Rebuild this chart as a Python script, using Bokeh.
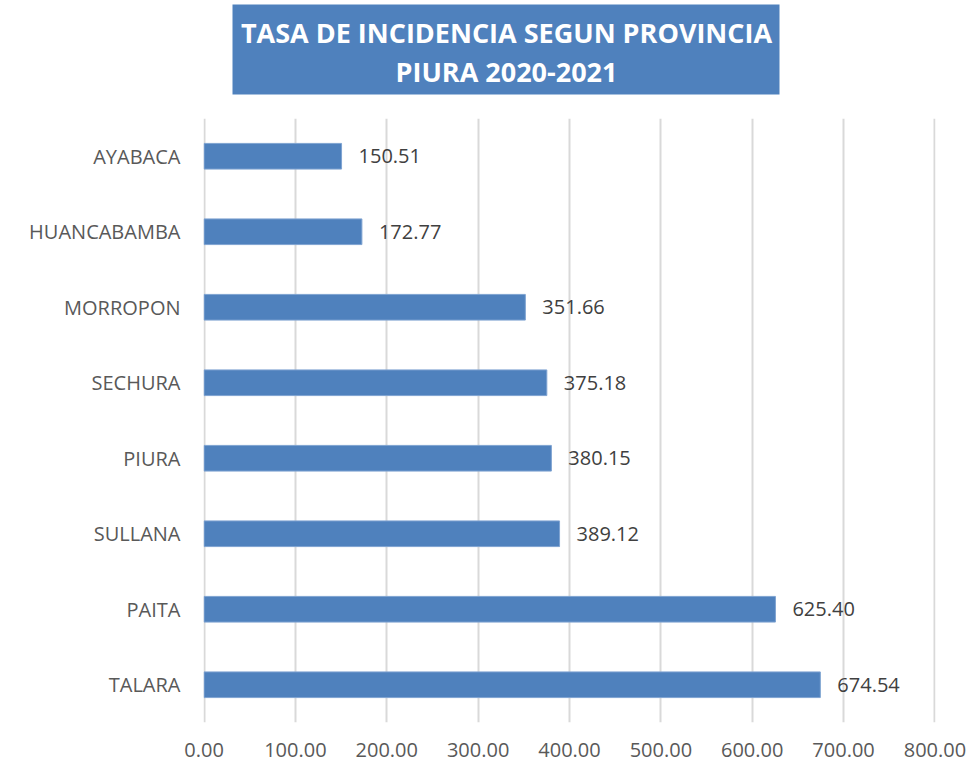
from bokeh.plotting import figure
from bokeh.layouts import column
from bokeh.models import (ColumnDataSource, FactorRange, Range1d, NumeralTickFormatter,
                          SingleIntervalTicker)
from bokeh.core.properties import value
from bokeh.embed import file_html
from bokeh.resources import INLINE

provincias = ["AYABACA", "HUANCABAMBA", "MORROPON", "SECHURA", "PIURA", "SULLANA", "PAITA", "TALARA"]
tasas = [150.51, 172.77, 351.66, 375.18, 380.15, 389.12, 625.40, 674.54]
titulo = ["TASA DE INCIDENCIA SEGUN PROVINCIA", "PIURA 2020-2021"]

FONT = "Open Sans"
BLUE = "#4F81BD"
LEFT, RIGHT = 203, 35

# ---- title panel (frame aligned with chart below; x in canvas pixels) ----
t = figure(width=970, height=118, output_backend="svg", toolbar_location=None,
           x_range=Range1d(LEFT, 970 - RIGHT), y_range=Range1d(118, 0),
           min_border_left=LEFT, min_border_right=RIGHT, min_border_top=0, min_border_bottom=0,
           x_axis_type=None, y_axis_type=None)
t.outline_line_color = None
t.grid.visible = False
t.quad(left=[232], right=[779], top=[4], bottom=[94], fill_color=BLUE, line_color=None)
t.text(x=[506, 506], y=[32, 71], text=titulo, text_align="center", text_baseline="middle",
       text_font=value(FONT), text_font_style="bold", text_font_size="27px", text_color="white")

# ---- bar chart ----
src = ColumnDataSource(dict(prov=provincias, tasa=tasas, lab=["%.2f" % v for v in tasas]))

p = figure(width=970, height=645, output_backend="svg", toolbar_location=None,
           y_range=FactorRange(*list(reversed(provincias)), range_padding=0),
           x_range=Range1d(-0.6, 800.6),
           min_border_left=LEFT, min_border_right=RIGHT, min_border_top=0, min_border_bottom=41)
p.outline_line_color = None

p.hbar(y="prov", right="tasa", left=0, height=0.34, source=src,
       fill_color=BLUE, line_color="#7FA3D1", line_width=1)
p.text(x="tasa", y="prov", text="lab", source=src, x_offset=17,
       text_baseline="middle", text_align="left", text_font=value(FONT),
       text_font_size="20px", text_color="#404040")

p.xaxis.ticker = SingleIntervalTicker(interval=100)
p.xaxis.formatter = NumeralTickFormatter(format="0.00")
for ax in (p.xaxis[0], p.yaxis[0]):
    ax.axis_line_color = None
    ax.major_tick_line_color = None
    ax.minor_tick_line_color = None
    ax.major_label_text_font = FONT
    ax.major_label_text_font_size = "20px"
    ax.major_label_text_color = "#595959"
p.xaxis.major_label_standoff = 14
p.yaxis.major_label_standoff = 17

p.ygrid.grid_line_color = None
p.xgrid.grid_line_color = "#D9D9D9"
p.xgrid.grid_line_width = 2

layout = column(t, p, spacing=0)
open("out.html", "w").write(file_html(layout, INLINE))
